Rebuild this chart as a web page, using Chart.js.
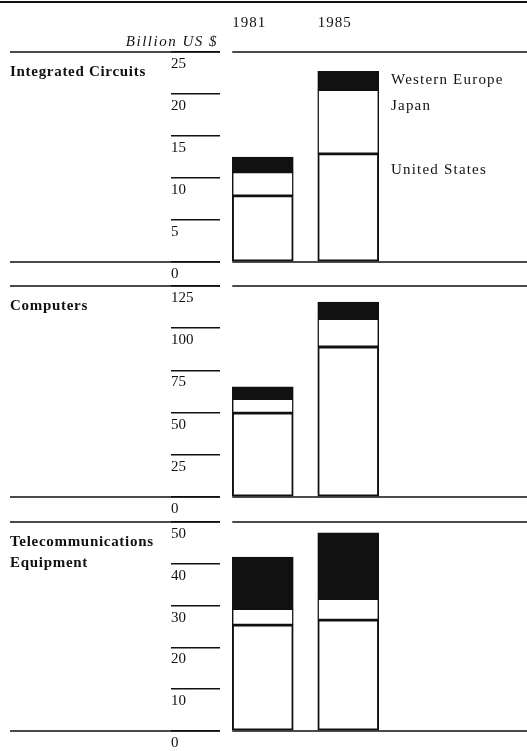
<!DOCTYPE html>
<html>
<head>
<meta charset="utf-8">
<script src="https://cdn.jsdelivr.net/npm/chart.js@4.4.1/dist/chart.umd.min.js"></script>
<style>
    html, body { margin:0; padding:0; background:#fff; width:527px; height:751px; overflow:hidden; }
    canvas { position:absolute; left:0; }
</style>
</head>
<body>
<canvas id="icChart"   width="527" height="282" style="top:0"></canvas>
<canvas id="compChart" width="527" height="251" style="top:266px"></canvas>
<canvas id="telChart"  width="527" height="249" style="top:502px"></canvas>
<script>
// ── Data ─────────────────────────────────────────────
const years   = ['1981', '1985'];
const regions = ['United States', 'Japan', 'Western Europe'];
const unitLabel = 'Billion US $';

const icLabel   = ['Integrated Circuits'];
const icUS      = [7.9, 12.9];
const icJapan   = [2.8, 7.6];
const icEurope  = [1.8, 2.2];
const icMax = 25, icStep = 5;

const compLabel  = ['Computers'];
const compUS     = [49.8, 89.0];
const compJapan  = [8.3, 16.5];
const compEurope = [7.1, 10.0];
const compMax = 125, compStep = 25;

const telLabel  = ['Telecommunications', 'Equipment'];
const telUS     = [25.4, 26.6];
const telJapan  = [3.8, 5.0];
const telEurope = [12.4, 15.8];
const telMax = 50, telStep = 10;

// ── Styling ──────────────────────────────────────────
const INK   = '#111';
const SERIF = '"Liberation Serif", "DejaVu Serif", serif';

// frame: separator lines, sector title, header and legend text
const framePlugin = {
    id: 'frame',
    afterDraw(chart, args, opts) {
        const { ctx, chartArea, scales: { y } } = chart;
        const bars = chart.getDatasetMeta(0).data;
        const barLeft = bars[0].x - bars[0].width / 2;
        const top = y.getPixelForValue(y.max);
        const bottom = y.getPixelForValue(0);
        const W = chart.width;

        ctx.save();
        ctx.strokeStyle = INK;
        ctx.lineWidth = 1.5;
        [top, bottom].forEach(py => {
            ctx.beginPath();
            ctx.moveTo(10, py);  ctx.lineTo(chartArea.left, py);
            ctx.moveTo(barLeft, py); ctx.lineTo(W, py);
            ctx.stroke();
        });

        ctx.fillStyle = INK;
        ctx.textBaseline = 'middle';
        ctx.textAlign = 'left';
        ctx.font = `bold 15px ${SERIF}`;
        ctx.letterSpacing = '0.7px';
        opts.title.forEach((t, i) => ctx.fillText(t, 10, top + 20 + i * 21));

        if (opts.header) {
            ctx.lineWidth = 2;
            ctx.beginPath(); ctx.moveTo(0, 2); ctx.lineTo(W, 2); ctx.stroke();
            ctx.font = `15px ${SERIF}`;
            ctx.letterSpacing = '1px';
            bars.forEach((b, i) => ctx.fillText(years[i], b.x - b.width / 2, 23));
            ctx.font = `italic 15px ${SERIF}`;
            ctx.letterSpacing = '1.5px';
            ctx.textAlign = 'right';
            ctx.fillText(unitLabel, 218, 42);
        }

        if (opts.legend) {
            ctx.font = `15px ${SERIF}`;
            ctx.letterSpacing = '1.2px';
            ctx.textAlign = 'left';
            chart.data.datasets.forEach((ds, i) => {
                const bar = chart.getDatasetMeta(i).data[1];
                const ly = i === 2 ? (bar.y + bar.base) / 2 : bar.y + 16;
                ctx.fillText(ds.label, chartArea.right, ly);
            });
        }
        ctx.restore();
    }
};

function makeChart(id, title, us, japan, europe, max, step, extra) {
    const seg = (label, data, fill, bw) => ({
        label, data,
        backgroundColor: fill,
        borderColor: INK,
        borderWidth: bw,
        borderSkipped: false,
        barThickness: 61
    });
    return new Chart(document.getElementById(id), {
        type: 'bar',
        data: {
            labels: years,
            datasets: [
                seg(regions[0], us, '#fff', 2),
                seg(regions[1], japan, '#fff', 1.5),
                seg(regions[2], europe, INK, 1)
            ]
        },
        options: {
            responsive: false,
            animation: false,
            layout: { padding: { left: 171, right: 136, top: extra.padTop, bottom: 20 } },
            plugins: {
                legend: { display: false },
                tooltip: { enabled: false },
                frame: { title, header: !!extra.header, legend: !!extra.legend }
            },
            scales: {
                x: { stacked: true, display: false },
                y: {
                    stacked: true, min: 0, max,
                    afterFit: s => { s.width = 49; },
                    border: { display: false },
                    grid: { drawOnChartArea: false, drawTicks: true, tickLength: 49, color: INK, lineWidth: 1.5 },
                    ticks: {
                        stepSize: step, crossAlign: 'far', labelOffset: 12, padding: 0,
                        color: INK, font: { family: SERIF, size: 15 }
                    }
                }
            }
        },
        plugins: [framePlugin]
    });
}

makeChart('icChart',   icLabel,   icUS,   icJapan,   icEurope,   icMax,   icStep,   { padTop: 52, header: true, legend: true });
makeChart('compChart', compLabel, compUS, compJapan, compEurope, compMax, compStep, { padTop: 20 });
makeChart('telChart',  telLabel,  telUS,  telJapan,  telEurope,  telMax,  telStep,  { padTop: 20 });
</script>
</body>
</html>
